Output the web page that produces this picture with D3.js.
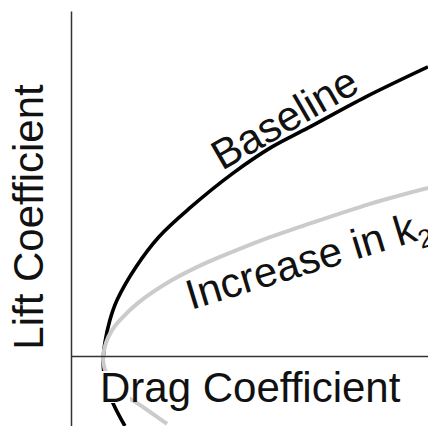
<!DOCTYPE html>
<html>
<head>
<meta charset="utf-8">
<script src="https://cdn.jsdelivr.net/npm/d3@7"></script>
<style>
html,body{margin:0;padding:0;background:#fff;}
svg{display:block;}
text{font-family:"Liberation Sans",Arial,Helvetica,sans-serif;fill:#111;}
</style>
</head>
<body>
<svg id="chart" width="428" height="426"></svg>
<script>
// Drag polar (arbitrary units: drag coefficient vs lift coefficient)
const baselineCD = [15.1, 12.0, 9.8, 9.0, 9.5, 10.9, 12.9, 18.2, 24.6, 33.3, 45.4, 56.3, 66.4, 82.6, 100];
const baselineCL = [-20.3, -14.2, -8.4, -2.3, 3.8, 10.4, 16.2, 25.8, 34.5, 42.9, 53.0, 60.6, 66.1, 75.1, 83.8];
const k2CD = [26.9, 20.2, 14.3, 10.4, 9.0, 9.8, 11.5, 13.7, 18.8, 28.3, 37.8, 44.5, 53.5, 64.1, 83.8, 100];
const k2CL = [-19.7, -14.8, -10.7, -6.1, -1.2, 3.8, 7.5, 10.4, 15.4, 22.0, 27.0, 29.9, 33.6, 37.4, 44.1, 48.7];
const seriesNames = ["Baseline", "Increase in k"];
const xTitle = "Drag Coefficient";
const yTitle = "Lift Coefficient";

const svg = d3.select("#chart");
const x = d3.scaleLinear().domain([0, 100]).range([71, 428]);
const y = d3.scaleLinear().domain([-20.3, 100]).range([426, 11]);

const line = d3.line()
  .x(d => x(d[0])).y(d => y(d[1]))
  .curve(d3.curveCatmullRom.alpha(0.5));

const base = d3.zip(baselineCD, baselineCL);
const inc = d3.zip(k2CD, k2CL);

svg.append("path").datum(base).attr("d", line)
  .attr("fill", "none").attr("stroke", "#000").attr("stroke-width", 3.6);
svg.append("path").datum(inc).attr("d", line)
  .attr("fill", "none").attr("stroke", "#cbcbcb").attr("stroke-width", 4);

// axes (no ticks)
svg.append("g").attr("transform", `translate(0,${y(0)})`)
  .call(d3.axisBottom(x).tickValues([]).tickSizeOuter(0));
svg.append("g").attr("transform", `translate(${x(0)},0)`)
  .call(d3.axisLeft(y).tickValues([]).tickSizeOuter(0));
svg.selectAll(".domain").attr("stroke", "#333").attr("stroke-width", 1.5);

// x title with white backing behind the first letter
const xt = svg.append("text").attr("x", 100).attr("y", 402)
  .attr("font-size", 42).text(xTitle);
const bb = xt.node().getBBox();
svg.insert("rect", "text").attr("x", bb.x).attr("y", 402 - 31)
  .attr("width", 30).attr("height", 32).attr("fill", "#fff");

svg.append("text").attr("transform", "translate(43,217) rotate(-90)")
  .attr("text-anchor", "middle").attr("font-size", 42).text(yTitle);

svg.append("text").attr("transform", "translate(222,171) rotate(-30)")
  .attr("font-size", 42).text(seriesNames[0]);

const t2 = svg.append("text").attr("transform", "translate(191,310) rotate(-17)")
  .attr("font-size", 42);
t2.append("tspan").text(seriesNames[1]);
t2.append("tspan").attr("font-size", 26).attr("dy", 9).text("2");
</script>
</body>
</html>
